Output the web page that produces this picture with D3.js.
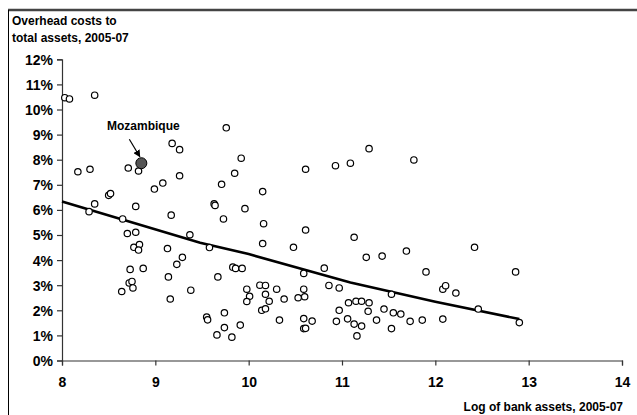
<!DOCTYPE html>
<html>
<head>
<meta charset="utf-8">
<script src="https://cdn.jsdelivr.net/npm/d3@7"></script>
<style>
  body { margin: 0; background: #fff; }
  text { font-family: "Liberation Sans", Arial, sans-serif; font-weight: bold; fill: #000; }
</style>
</head>
<body>
<script>
// log of bank assets (x) and overhead costs to total assets in % (y)
var logAssets = [8.03, 8.08, 8.35, 8.17, 8.30, 8.71, 8.82, 9.18, 9.26, 9.26, 9.08, 8.99, 9.76, 9.92, 9.85, 9.71,
  10.15, 10.61, 8.50, 8.52, 8.35, 8.79, 9.63, 9.64, 9.96, 8.29, 8.65, 8.70, 8.79, 8.77, 8.83, 8.82, 8.87, 8.73,
  8.72, 8.75, 8.76, 8.64, 9.17, 9.13, 9.37, 9.29, 9.23, 9.14, 9.38, 9.16, 9.73, 9.58, 10.16, 10.15, 10.61, 10.48,
  9.83, 9.86, 9.93, 9.67, 9.98, 10.01, 9.98, 10.12, 10.18, 10.18, 10.22, 10.30, 10.38, 10.14, 10.18, 10.59, 10.59,
  10.60, 10.53, 10.33, 10.59, 10.59, 10.61, 10.68, 9.55, 9.56, 9.74, 9.74, 9.91, 9.66, 9.82, 11.29, 11.09, 10.93,
  11.77, 11.13, 11.26, 11.43, 11.69, 10.81, 10.86, 10.97, 11.90, 12.08, 12.11, 12.22, 12.42, 12.86, 11.53, 11.07,
  11.15, 11.21, 11.29, 10.97, 11.28, 11.45, 11.55, 11.63, 12.46, 10.94, 11.06, 11.13, 11.21, 11.16, 11.37, 11.53,
  11.73, 11.86, 12.08, 12.90];
var overhead = [10.47, 10.42, 10.57, 7.52, 7.62, 7.67, 7.55, 8.65, 8.40, 7.36, 7.07, 6.83, 9.27, 8.06, 7.46, 7.02,
  6.73, 7.62, 6.58, 6.65, 6.24, 6.14, 6.24, 6.18, 6.05, 5.93, 5.64, 5.06, 5.11, 4.51, 4.62, 4.40, 3.67, 3.63,
  3.09, 3.15, 2.89, 2.75, 5.79, 4.46, 5.01, 4.11, 3.83, 3.33, 2.80, 2.45, 5.64, 4.50, 5.45, 4.66, 5.20, 4.51,
  3.72, 3.67, 3.67, 3.33, 2.84, 2.56, 2.35, 3.00, 2.99, 2.64, 2.36, 2.84, 2.45, 2.00, 2.06, 3.47, 2.84,
  2.54, 2.50, 1.61, 1.67, 1.27, 1.28, 1.57, 1.73, 1.62, 1.90, 1.31, 1.41, 1.02, 0.93, 8.44, 7.86, 7.76,
  7.99, 4.91, 4.11, 4.16, 4.36, 3.68, 2.99, 2.89, 3.53, 2.84, 2.98, 2.69, 4.51, 3.53, 2.64, 2.30,
  2.36, 2.36, 2.30, 2.00, 1.96, 2.05, 1.90, 1.85, 2.05, 1.56, 1.66, 1.45, 1.37, 0.98, 1.61, 1.27,
  1.56, 1.61, 1.65, 1.51];

// highlighted country
var highlightName = "Mozambique";
var highlightX = 8.85, highlightY = 7.86;

// fitted trend
var trendX = [8, 9.48, 10, 11.09, 12, 12.9];
var trendY = [6.33, 4.69, 4.24, 3.11, 2.34, 1.65];

var xTicks = [8, 9, 10, 11, 12, 13, 14];
var yTicks = [0, 1, 2, 3, 4, 5, 6, 7, 8, 9, 10, 11, 12];

var points = logAssets.map(function(d, i) { return { x: d, y: overhead[i] }; });
var trend = trendX.map(function(d, i) { return { x: d, y: trendY[i] }; });

var W = 637, H = 415;
var svg = d3.select("body").append("svg")
    .attr("width", W)
    .attr("height", H);

// frame: heavy top rule and thin left rule
svg.append("line").attr("x1", 8).attr("x2", W).attr("y1", 10).attr("y2", 10)
    .attr("stroke", "#444").attr("stroke-width", 2.5);
svg.append("line").attr("x1", 8.5).attr("x2", 8.5).attr("y1", 10).attr("y2", H)
    .attr("stroke", "#000").attr("stroke-width", 1);

var xScale = d3.scaleLinear().domain([8, 14]).range([62, 622]);
var yScale = d3.scaleLinear().domain([0, 12]).range([360.5, 59.3]);

// y axis
var yAxis = svg.append("g")
    .attr("transform", "translate(62,0)")
    .call(d3.axisLeft(yScale).tickValues(yTicks).tickSize(5).tickPadding(4)
        .tickFormat(function(d) { return d + "%"; }));
yAxis.selectAll("text").style("font-size", "14px").attr("dy", "0.35em");

// x axis
var xAxis = svg.append("g")
    .attr("transform", "translate(0,360.5)")
    .call(d3.axisBottom(xScale).tickValues(xTicks).tickSize(5).tickPadding(12)
        .tickFormat(d3.format("d")));
xAxis.selectAll("text").style("font-size", "14px");

svg.selectAll(".domain").attr("stroke", "#333").attr("stroke-width", 1.2);
svg.selectAll(".tick line").attr("stroke", "#333").attr("stroke-width", 1.2);
svg.selectAll(".tick text").attr("fill", "#000").style("font-family", "Liberation Sans, Arial, sans-serif");

// axis titles
svg.append("text").attr("x", 12).attr("y", 25).style("font-size", "12px").text("Overhead costs to");
svg.append("text").attr("x", 12).attr("y", 42).style("font-size", "12px").text("total assets, 2005-07");
svg.append("text").attr("x", 623).attr("y", 411).attr("text-anchor", "end")
    .style("font-size", "12px").text("Log of bank assets, 2005-07");

// trend line
var valueline = d3.line()
    .x(function(d) { return xScale(d.x); })
    .y(function(d) { return yScale(d.y); });

svg.append("path")
    .datum(trend)
    .attr("d", valueline)
    .attr("fill", "none")
    .attr("stroke", "#000")
    .attr("stroke-width", 2.6);

// scatter
svg.selectAll(".dot")
    .data(points)
    .enter().append("circle")
    .attr("class", "dot")
    .attr("r", 3.2)
    .attr("cx", function(d) { return xScale(d.x); })
    .attr("cy", function(d) { return yScale(d.y); })
    .attr("fill", "#fff")
    .attr("stroke", "#000")
    .attr("stroke-width", 1.2);

// Mozambique marker, label and arrow
var hx = xScale(highlightX), hy = yScale(highlightY);
svg.append("defs").append("marker")
    .attr("id", "arrow")
    .attr("viewBox", "0 0 10 10")
    .attr("refX", 9).attr("refY", 5)
    .attr("markerWidth", 6).attr("markerHeight", 6)
    .attr("orient", "auto")
    .append("path").attr("d", "M0,0L10,5L0,10z").attr("fill", "#000");

svg.append("line")
    .attr("x1", hx - 12).attr("y1", hy - 24)
    .attr("x2", hx - 1.5).attr("y2", hy - 6.5)
    .attr("stroke", "#000").attr("stroke-width", 1.2)
    .attr("marker-end", "url(#arrow)");

svg.append("circle")
    .attr("cx", hx).attr("cy", hy).attr("r", 5.5)
    .attr("fill", "#555").attr("stroke", "#000").attr("stroke-width", 1);

svg.append("text")
    .attr("x", hx + 2).attr("y", hy - 33)
    .attr("text-anchor", "middle")
    .style("font-size", "12px")
    .text(highlightName);
</script>
</body>
</html>
